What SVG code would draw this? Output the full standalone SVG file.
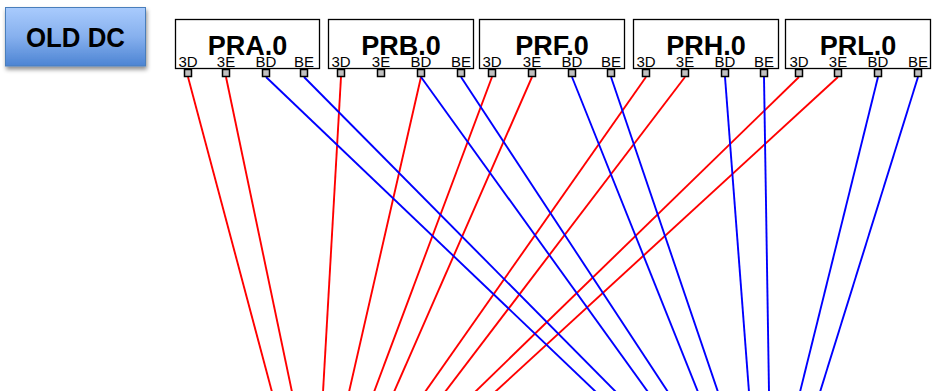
<svg xmlns="http://www.w3.org/2000/svg" width="942" height="391" viewBox="0 0 942 391">
  <style>
    .box { fill: #ffffff; stroke: #000000; stroke-width: 1.3; }
    .title { font-family: "Liberation Sans", Arial, sans-serif; font-weight: bold; font-size: 27px; text-anchor: middle; fill: #000; }
    .plabel { font-family: "Liberation Sans", Arial, sans-serif; font-size: 15px; text-anchor: middle; fill: #000; }
    .port { fill: #c0c0c0; stroke: #000000; stroke-width: 1.5; }
    .red { stroke: #ff0000; stroke-width: 1.9; fill: none; }
    .blue { stroke: #0000ff; stroke-width: 1.9; fill: none; }
    .btnText { font-family: "Liberation Sans", Arial, sans-serif; font-weight: bold; font-size: 27px; text-anchor: middle; fill: #000; }
  </style>
  <defs>
    <linearGradient id="btnGrad" x1="0" y1="0" x2="0" y2="1">
      <stop offset="0" stop-color="#a9cbfd"/>
      <stop offset="0.5" stop-color="#86b0ee"/>
      <stop offset="1" stop-color="#4c84d3"/>
    </linearGradient>
    <filter id="shadow" x="-20%" y="-20%" width="140%" height="160%">
      <feDropShadow dx="1" dy="3" stdDeviation="2" flood-color="#000" flood-opacity="0.45"/>
    </filter>
  </defs>
  <rect width="942" height="391" fill="#ffffff"/>

  <!-- legend button -->
  <g id="old-dc">
    <rect x="5.5" y="7.5" width="140" height="58.5" fill="url(#btnGrad)" stroke="#4a7ebb" stroke-width="1" filter="url(#shadow)"/>
    <text class="btnText" x="75.5" y="47" textLength="99" lengthAdjust="spacingAndGlyphs">OLD DC</text>
  </g>

  <!-- connectors -->
  <g id="connectors">
    <line class="red" x1="188" y1="77" x2="272" y2="392"/>
    <line class="red" x1="226" y1="77" x2="292" y2="392"/>
    <line class="red" x1="341" y1="77" x2="323" y2="392"/>
    <line class="red" x1="421" y1="77" x2="349" y2="392"/>
    <line class="red" x1="492" y1="77" x2="374" y2="392"/>
    <line class="red" x1="532" y1="77" x2="394" y2="392"/>
    <line class="red" x1="646" y1="77" x2="425" y2="392"/>
    <line class="red" x1="685" y1="77" x2="445" y2="392"/>
    <line class="red" x1="799" y1="77" x2="475" y2="392"/>
    <line class="red" x1="838" y1="77" x2="495" y2="392"/>

    <line class="blue" x1="266" y1="77" x2="596" y2="392"/>
    <line class="blue" x1="304" y1="77" x2="616" y2="392"/>
    <line class="blue" x1="421" y1="77" x2="648" y2="392"/>
    <line class="blue" x1="461" y1="77" x2="668" y2="392"/>
    <line class="blue" x1="572" y1="77" x2="698" y2="392"/>
    <line class="blue" x1="611" y1="77" x2="718" y2="392"/>
    <line class="blue" x1="725" y1="77" x2="749" y2="392"/>
    <line class="blue" x1="764" y1="77" x2="769" y2="392"/>
    <line class="blue" x1="878" y1="77" x2="800" y2="392"/>
    <line class="blue" x1="918" y1="77" x2="820" y2="392"/>
  </g>

  <!-- PRA.0 -->
  <g id="PRA">
    <rect class="box" x="175.5" y="19.5" width="144" height="49"/>
    <text class="title" x="247.5" y="55">PRA.0</text>
    <text class="plabel" x="188" y="67">3D</text>
    <text class="plabel" x="226" y="67">3E</text>
    <text class="plabel" x="266" y="67">BD</text>
    <text class="plabel" x="304" y="67">BE</text>
    <rect class="port" x="184.5" y="69.5" width="7" height="7"/>
    <rect class="port" x="222.5" y="69.5" width="7" height="7"/>
    <rect class="port" x="262.5" y="69.5" width="7" height="7"/>
    <rect class="port" x="300.5" y="69.5" width="7" height="7"/>
  </g>

  <!-- PRB.0 -->
  <g id="PRB">
    <rect class="box" x="328.5" y="19.5" width="145" height="49"/>
    <text class="title" x="401" y="55">PRB.0</text>
    <text class="plabel" x="341" y="67">3D</text>
    <text class="plabel" x="381" y="67">3E</text>
    <text class="plabel" x="421" y="67">BD</text>
    <text class="plabel" x="461" y="67">BE</text>
    <rect class="port" x="337.5" y="69.5" width="7" height="7"/>
    <rect class="port" x="377.5" y="69.5" width="7" height="7"/>
    <rect class="port" x="417.5" y="69.5" width="7" height="7"/>
    <rect class="port" x="457.5" y="69.5" width="7" height="7"/>
  </g>

  <!-- PRF.0 -->
  <g id="PRF">
    <rect class="box" x="479.5" y="19.5" width="145" height="49"/>
    <text class="title" x="552" y="55">PRF.0</text>
    <text class="plabel" x="492" y="67">3D</text>
    <text class="plabel" x="532" y="67">3E</text>
    <text class="plabel" x="572" y="67">BD</text>
    <text class="plabel" x="611" y="67">BE</text>
    <rect class="port" x="488.5" y="69.5" width="7" height="7"/>
    <rect class="port" x="528.5" y="69.5" width="7" height="7"/>
    <rect class="port" x="568.5" y="69.5" width="7" height="7"/>
    <rect class="port" x="607.5" y="69.5" width="7" height="7"/>
  </g>

  <!-- PRH.0 -->
  <g id="PRH">
    <rect class="box" x="633.5" y="19.5" width="145" height="49"/>
    <text class="title" x="706" y="55">PRH.0</text>
    <text class="plabel" x="646" y="67">3D</text>
    <text class="plabel" x="685" y="67">3E</text>
    <text class="plabel" x="725" y="67">BD</text>
    <text class="plabel" x="764" y="67">BE</text>
    <rect class="port" x="642.5" y="69.5" width="7" height="7"/>
    <rect class="port" x="681.5" y="69.5" width="7" height="7"/>
    <rect class="port" x="721.5" y="69.5" width="7" height="7"/>
    <rect class="port" x="760.5" y="69.5" width="7" height="7"/>
  </g>

  <!-- PRL.0 -->
  <g id="PRL">
    <rect class="box" x="785.5" y="19.5" width="145" height="49"/>
    <text class="title" x="858" y="55">PRL.0</text>
    <text class="plabel" x="799" y="67">3D</text>
    <text class="plabel" x="838" y="67">3E</text>
    <text class="plabel" x="878" y="67">BD</text>
    <text class="plabel" x="918" y="67">BE</text>
    <rect class="port" x="795.5" y="69.5" width="7" height="7"/>
    <rect class="port" x="834.5" y="69.5" width="7" height="7"/>
    <rect class="port" x="874.5" y="69.5" width="7" height="7"/>
    <rect class="port" x="914.5" y="69.5" width="7" height="7"/>
  </g>
</svg>
